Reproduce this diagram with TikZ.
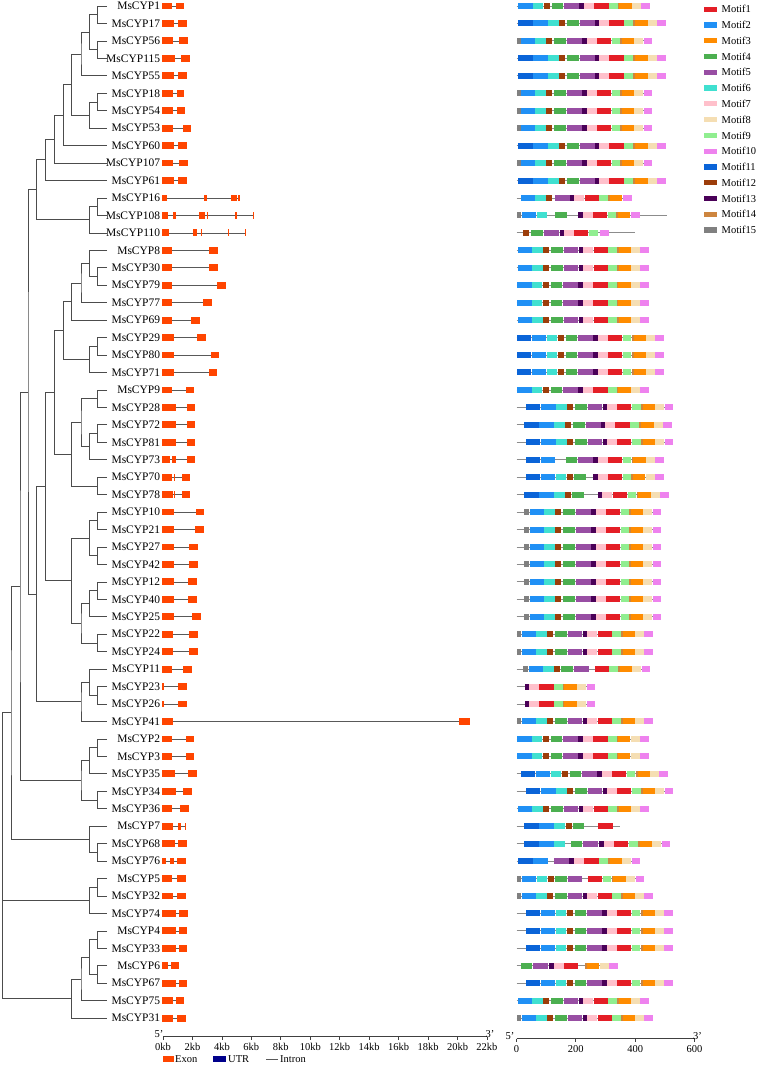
\documentclass[tikz,border=0pt]{standalone}
\usepackage{fontspec}
\setmainfont{Liberation Serif}
\usetikzlibrary{calc}
\definecolor{mc1}{HTML}{E41E26}
\definecolor{mc2}{HTML}{2090F5}
\definecolor{mc3}{HTML}{FF8C00}
\definecolor{mc4}{HTML}{4CAF50}
\definecolor{mc5}{HTML}{984EA3}
\definecolor{mc6}{HTML}{40E0D0}
\definecolor{mc7}{HTML}{FFC0CB}
\definecolor{mc8}{HTML}{F5DEB3}
\definecolor{mc9}{HTML}{90EE90}
\definecolor{mc10}{HTML}{EE82EE}
\definecolor{mc11}{HTML}{0A64D8}
\definecolor{mc12}{HTML}{9C3D0A}
\definecolor{mc13}{HTML}{4A0058}
\definecolor{mc14}{HTML}{CD853F}
\definecolor{mc15}{HTML}{808080}
\definecolor{exonc}{HTML}{FF4500}
\definecolor{utrc}{HTML}{00008B}
\newcommand\setmw[2]{\expandafter\def\csname mw#1\endcsname{#2}}
\setmw{1}{14.4}\setmw{2}{14.5}\setmw{3}{12.2}\setmw{4}{11.6}\setmw{5}{14.7}
\setmw{6}{10.6}\setmw{7}{10}\setmw{8}{9}\setmw{9}{8.7}\setmw{10}{8.7}
\setmw{11}{14.4}\setmw{12}{6}\setmw{13}{4.5}\setmw{14}{1.8}\setmw{15}{4.5}
\newcommand\sety[2]{\expandafter\xdef\csname ty#1\endcsname{#2}}
\newcommand\gety[1]{\csname ty#1\endcsname}
\tikzset{
 tree/.style={draw=black!70, line width=0.7pt},
 intron/.style={draw=black!65, line width=0.7pt},
 mline/.style={draw=black!45, line width=0.8pt},
 glabel/.style={anchor=east, inner sep=0pt, font=\fontsize{11.5}{12}\selectfont},
 small/.style={inner sep=0pt, font=\fontsize{10.5}{11}\selectfont},
 axisline/.style={draw=black!75, line width=0.7pt},
}
\newcommand\rowy[1]{\pgfmathsetmacro\yy{6+17.45*#1}}
\newcommand\generow[4]{%
 \rowy{#1}\sety{L#1}{\yy}%
 \coordinate (L#1) at (107,\yy);
 \node[glabel] (n#1) at (160.3,\yy) {#2};
 \coordinate (gs#1) at (162.3,\yy);
 \coordinate (ge#1) at (#4,\yy);
 \draw[intron] (gs#1) -- (ge#1);
 \foreach \a/\b in {#3} {\fill[exonc] (\a,\yy-3.4) rectangle (\b,\yy+3.4);}
}
\newcommand\motline[3]{\rowy{#1}\coordinate (ms#1) at (#2,\yy); \coordinate (me#1) at (#3,\yy); \draw[mline] (ms#1) -- (me#1);}
\newcommand\motset[2]{\rowy{#1}\foreach \m/\x in {#2} {\fill[fill=mc\m] (\x,\yy-3) rectangle ++(\csname mw\m\endcsname,6);}}
\newcommand\patA[2]{\rowy{#1}\foreach \m/\o in {2/0,6/14.4,12/25.4,4/33.4,5/46,13/61,7/65.7,1/76,9/90.7,14/99.4,3/101,8/113.4,10/122.7} {\fill[fill=mc\m] (#2+\o,\yy-3) rectangle ++(\csname mw\m\endcsname,6);}}
\newcommand\patB[2]{\rowy{#1}\foreach \m/\o in {11/0,2/15,6/30,12/41,4/49,5/61.7,13/76.7,7/81,1/91,9/106,14/115,3/117,8/129.4,10/138.7} {\fill[fill=mc\m] (#2+\o,\yy-3) rectangle ++(\csname mw\m\endcsname,6);}}
\newcommand\clade[4]{\pgfmathsetmacro\cy{0.5*(\gety{#3}+\gety{#4})}\sety{#1}{\cy}%
 \coordinate (#1) at (#2,\cy); \draw[tree] (#3) -| (#1) |- (#4);}
\begin{document}
\begin{tikzpicture}[x=1pt,y=-1pt]
\fill[white] (0,0) rectangle (758,1065);
\useasboundingbox (0,0) rectangle (758,1065);
% gene rows
\generow{0}{MsCYP1}{162.3/171.7,176/184}{184}
\generow{1}{MsCYP17}{162.3/174.3,178.3/186.7}{186.7}
\generow{2}{MsCYP56}{162.3/172.7,179.3/187.7}{187.7}
\generow{3}{MsCYP115}{162.3/175,181/190}{190}
\generow{4}{MsCYP55}{162.3/174,178.3/186.7}{186.7}
\generow{5}{MsCYP18}{162.3/172.7,176.7/184.3}{184.3}
\generow{6}{MsCYP54}{162.3/172.7,176.7/185}{185}
\generow{7}{MsCYP53}{162.3/173.3,182.7/191}{191}
\generow{8}{MsCYP60}{162.3/174.3,178.3/186.7}{186.7}
\generow{9}{MsCYP107}{162.3/172.7,179.3/187.7}{187.7}
\generow{10}{MsCYP61}{162.3/174,178.3/186.7}{186.7}
\generow{11}{MsCYP16}{162.3/167.3,204.3/206.7,231/236.7,238.3/239.5}{240}
\generow{12}{MsCYP108}{162.3/168.3,173.3/175.7,199.3/205,206.7/207.7,235/236.7,253.3/254.3}{254.3}
\generow{13}{MsCYP110}{162.3/169,193.3/196.7,200.7/201.7,227.7/229.3,245/246}{246}
\generow{14}{MsCYP8}{162.3/171.7,209/217.7}{217.7}
\generow{15}{MsCYP30}{162.3/172.3,209.3/218.3}{218.3}
\generow{16}{MsCYP79}{162.3/172.3,216.7/225.7}{225.7}
\generow{17}{MsCYP77}{162.3/172.3,203.3/211.7}{211.7}
\generow{18}{MsCYP69}{162.3/172.3,191/200}{200}
\generow{19}{MsCYP29}{162.3/174.3,197.3/205.7}{205.7}
\generow{20}{MsCYP80}{162.3/174.3,210.7/219}{219}
\generow{21}{MsCYP71}{162.3/174.3,208.7/217.3}{217.3}
\generow{22}{MsCYP9}{162.3/172.3,185.7/194}{194}
\generow{23}{MsCYP28}{162.3/175.7,186.7/195}{195}
\generow{24}{MsCYP72}{162.3/175.7,186.7/195}{195}
\generow{25}{MsCYP81}{162.3/175.7,186.7/195}{195}
\generow{26}{MsCYP73}{162.3/170,171.7/175.7,186.7/195}{195}
\generow{27}{MsCYP70}{162.3/171.7,174/175,181.7/190}{190}
\generow{28}{MsCYP78}{162.3/173,174.3/175.3,181.7/190}{190}
\generow{29}{MsCYP10}{162.3/174,195.7/204}{204}
\generow{30}{MsCYP21}{162.3/174,195/204}{204}
\generow{31}{MsCYP27}{162.3/174,189/197.7}{197.7}
\generow{32}{MsCYP42}{162.3/174,189/197.7}{197.7}
\generow{33}{MsCYP12}{162.3/174,187.7/196.7}{196.7}
\generow{34}{MsCYP40}{162.3/174,187.7/196.7}{196.7}
\generow{35}{MsCYP25}{162.3/174,191.7/200.7}{200.7}
\generow{36}{MsCYP22}{162.3/172.7,189/197.7}{197.7}
\generow{37}{MsCYP24}{162.3/172.7,189/197.7}{197.7}
\generow{38}{MsCYP11}{162.3/172.3,182.7/191.7}{191.7}
\generow{39}{MsCYP23}{162.3/164.3,178.3/187.3}{187.3}
\generow{40}{MsCYP26}{162.3/164.3,178.3/187.3}{187.3}
\generow{41}{MsCYP41}{162.3/172.7,459/469.5}{469.5}
\generow{42}{MsCYP2}{162.3/172.3,185.7/194}{194}
\generow{43}{MsCYP3}{162.3/172.3,185.7/194}{194}
\generow{44}{MsCYP35}{162.3/175,188.3/196.7}{196.7}
\generow{45}{MsCYP34}{162.3/175.7,183.3/191.7}{191.7}
\generow{46}{MsCYP36}{162.3/172.3,180/189}{189}
\generow{47}{MsCYP7}{162.3/172.7,178.3/181,185/185.7}{185.7}
\generow{48}{MsCYP68}{162.3/175,178.3/186.7}{186.7}
\generow{49}{MsCYP76}{162.3/165.7,170/174.3,177.3/185.7}{185.7}
\generow{50}{MsCYP5}{162.3/171.7,176.7/185.7}{185.7}
\generow{51}{MsCYP32}{162.3/173.3,176.7/185.7}{185.7}
\generow{52}{MsCYP74}{162.3/176,179.3/188.3}{188.3}
\generow{53}{MsCYP4}{162.3/176,179/187.3}{187.3}
\generow{54}{MsCYP33}{162.3/176,179/187.3}{187.3}
\generow{55}{MsCYP6}{162.3/167.7,171/179}{179}
\generow{56}{MsCYP67}{162.3/176,179/187.3}{187.3}
\generow{57}{MsCYP75}{162.3/172.7,175.7/184}{184}
\generow{58}{MsCYP31}{162.3/173.3,176.7/185.7}{185.7}
% tree
\clade{A}{97.7}{L0}{L1}
\clade{B}{97.7}{L2}{L3}
\clade{C}{89.3}{A}{B}
\clade{D}{81}{C}{L4}
\clade{E}{97.7}{L5}{L6}
\clade{F}{89.3}{E}{L7}
\clade{G}{71.7}{D}{F}
\clade{H}{63.3}{G}{L8}
\clade{I}{54.3}{H}{L9}
\clade{J}{45.7}{I}{L10}
\clade{M}{97.7}{L11}{L12}
\clade{Lc}{89.3}{M}{L13}
\clade{K}{36.5}{J}{Lc}
\clade{N}{97.7}{L15}{L16}
\clade{O}{89.3}{L14}{N}
\clade{P}{81}{O}{L17}
\clade{Q}{71.7}{P}{L18}
\clade{R}{97.7}{L19}{L20}
\clade{S}{89.3}{R}{L21}
\clade{T}{63.3}{Q}{S}
\clade{W}{97.7}{L22}{L23}
\clade{X}{97.7}{L24}{L25}
\clade{Y}{89.3}{X}{L26}
\clade{Z}{81}{W}{Y}
\clade{AA}{97.7}{L27}{L28}
\clade{AB}{71.7}{Z}{AA}
\clade{U}{54.3}{T}{AB}
\clade{AC}{97.7}{L29}{L30}
\clade{AD}{97.7}{L31}{L32}
\clade{AE}{89.3}{AC}{AD}
\clade{AF}{97.7}{L33}{L34}
\clade{AG}{89.3}{AF}{L35}
\clade{AH}{97.7}{L36}{L37}
\clade{AI}{81}{AG}{AH}
\clade{AJ}{71.7}{AE}{AI}
\clade{AK}{45.7}{U}{AJ}
\clade{AN}{97.7}{L39}{L40}
\clade{AO}{89.3}{L38}{AN}
\clade{AM}{81}{AO}{L41}
\clade{AL}{36.5}{AK}{AM}
\clade{AP}{28}{K}{AL}
\clade{AS}{97.7}{L42}{L43}
\clade{AT}{89.3}{AS}{L44}
\clade{AU}{97.7}{L45}{L46}
\clade{AR}{81}{AT}{AU}
\clade{AQ}{20}{AP}{AR}
\clade{AW}{97.7}{L48}{L49}
\clade{AV}{89.3}{L47}{AW}
\clade{AX}{11}{AQ}{AV}
\clade{AZ}{97.7}{L50}{L51}
\clade{AY}{89.3}{AZ}{L52}
\clade{BB}{97.7}{L53}{L54}
\clade{BC}{97.7}{L55}{L56}
\clade{BD}{89.3}{BB}{BC}
\clade{BE}{81}{BD}{L57}
\clade{BA}{71.7}{BE}{L58}
\clade{root}{2.7}{AX}{BA}
\draw[tree] (AY) -- (AY -| root);
% motif rows
\foreach \i in {0} {\motline{\i}{516.7}{649.7}\patA{\i}{518.3}}
\foreach \i in {1,3,4,8,10} {\motline{\i}{516.7}{665.7}\patB{\i}{518.3}}
\foreach \i in {2,5,6,7,9} {\motline{\i}{516.7}{652.4}\motset{\i}{15/516.5}\patA{\i}{521}}
\motline{11}{516.7}{632}\motset{11}{2/520.7,6/535,12/546,5/555,13/570,7/574.3,1/585,9/599.3,14/607.9,3/609.7,10/623.3}
\motline{12}{516.7}{666.7}\motset{12}{15/516.7,2/521.7,6/536.7,4/555,13/578.3,7/582.7,1/592.7,9/607.7,14/616.2,3/618,10/631}
\motline{13}{516.7}{635}\motset{13}{12/523.3,4/531,5/544.3,13/560,7/564,1/574,9/589,10/600}
\foreach \i in {14,15,18,46,57} {\motline{\i}{516.7}{649.1}\patA{\i}{517.7}}
\foreach \i in {16,17,22} {\motline{\i}{516.7}{648.7}\patA{\i}{517.3}}
\foreach \i in {19,20,21} {\motline{\i}{516.7}{664.1}\patB{\i}{516.7}}
\foreach \i in {23,25,45} {\motline{\i}{516.7}{673.4}\patB{\i}{526}}
\motline{24}{516.7}{671.7}\patB{24}{524.3}
\motline{26}{516.7}{663.7}\motset{26}{11/526,2/540.7,4/565.7,5/578.3,13/593.3,7/597.7,1/607.7,9/622.7,14/631.6,3/633.3,8/645.7,10/655}
\motline{27}{516.7}{663.7}\motset{27}{11/526,2/540.7,6/555.7,12/566.7,4/574,13/593.3,7/597.7,1/607.7,9/622.7,14/631,3/632.7,8/645.7,10/655}
\motline{28}{516.7}{668.7}\motset{28}{11/524.3,2/539.3,6/554.3,12/565.3,4/572.3,13/598.3,7/602.3,1/612.7,9/627.7,14/636.7,3/638.3,8/650.7,10/660}
\foreach \i in {29,...,35} {\motline{\i}{516.7}{661.4}\motset{\i}{15/524.3}\patA{\i}{530}}
\foreach \i in {36,37,41,51,58} {\motline{\i}{516.7}{653.1}\motset{\i}{15/516.5}\patA{\i}{521.7}}
\motline{38}{516.7}{650.4}\motset{38}{15/523.3,2/529,6/543.3,12/554.3,4/561,5/574,1/595,9/609.3,14/618.3,3/620,8/632.3,10/641.7}
\foreach \i in {39,40} {\motline{\i}{516.7}{595.4}\motset{\i}{13/525,7/529.3,1/539.3,9/554.3,14/562.7,3/564.3,8/577.3,10/586.7}}
\foreach \i in {42,43} {\motline{\i}{516.7}{648.6}\patA{\i}{517.2}}
\motline{44}{516.7}{668.1}\patB{44}{520.7}
\motline{47}{516.7}{620}\motset{47}{11/524.3,2/539.3,6/554.3,12/565.7,4/572.7,1/598.3}
\motline{48}{516.7}{670.4}\motset{48}{11/524.3,2/539.3,6/554.3,4/570.7,5/583.3,13/599.3,7/604.3,1/614,9/629,14/637.7,3/639.5,8/652.3,10/661.7}
\motline{49}{516.7}{640.4}\motset{49}{11/518.3,2/533.3,5/554,13/569.3,7/574.3,1/584.3,9/599.3,14/608.2,3/610,8/622.3,10/631.7}
\motline{50}{516.7}{644.4}\motset{50}{15/516.7,2/521.7,6/536.7,12/547.7,4/555,5/567.7,1/587.7,9/602.7,14/611.7,3/613.3,8/625.7,10/635.7}
\foreach \i in {52,53,54,56} {\motline{\i}{516.7}{673.1}\patB{\i}{525.7}}
\motline{55}{516.7}{618}\motset{55}{4/520.7,5/533.3,13/549,7/554,1/564,14/585,3/586.7,8/600,10/609.3}
% motif legend
\foreach \k in {1,...,15} {
  \pgfmathsetmacro\ly{9.2+15.77*(\k-1)}
  \fill[fill=mc\k] (704.3,\ly-2.6) rectangle (716.7,\ly+2.6);
  \node[small, anchor=west] (lg\k) at (721.5,\ly) {Motif\k};
}
% gene axis
\coordinate (ga0) at (163,1036.5);
\coordinate (ga1) at (487,1036.5);
\draw[axisline] (ga0) -- (ga1);
\foreach \k in {0,...,11} {
  \pgfmathsetmacro\tx{163+29.45*\k}
  \pgfmathtruncatemacro\kb{2*\k}
  \draw[axisline] (\tx,1036.5) -- (\tx,1039.5);
  \node[small] (gt\k) at (\tx,1046.5) {\kb kb};
}
\node[small] (g5) at (159,1034) {5'};
\node[small] (g3) at (490,1034) {3'};
% gene legend
\fill[exonc] (162.7,1056) rectangle (173.5,1062);
\node[small, anchor=west] (lex) at (175,1059.5) {Exon};
\fill[utrc] (213.3,1056) rectangle (226,1062);
\node[small, anchor=west] (lutr) at (228,1059.5) {UTR};
\coordinate (li0) at (266,1059);
\coordinate (li1) at (277.7,1059);
\draw[intron] (li0) -- (li1);
\node[small, anchor=west] (lint) at (280,1059.5) {Intron};
% motif axis
\coordinate (ma0) at (516.5,1038.7);
\coordinate (ma1) at (694.5,1038.7);
\draw[axisline] (ma0) -- (ma1);
\foreach \k/\lab in {0/0,1/200,2/400,3/600} {
  \pgfmathsetmacro\tx{516.5+59.33*\k}
  \draw[axisline] (\tx,1038.7) -- (\tx,1041.7);
  \node[small] (mt\k) at (\tx,1049.3) {\lab};
}
\node[small] (m5) at (510,1036) {5'};
\node[small] (m3) at (697.5,1036) {3'};
\end{tikzpicture}
\end{document}
